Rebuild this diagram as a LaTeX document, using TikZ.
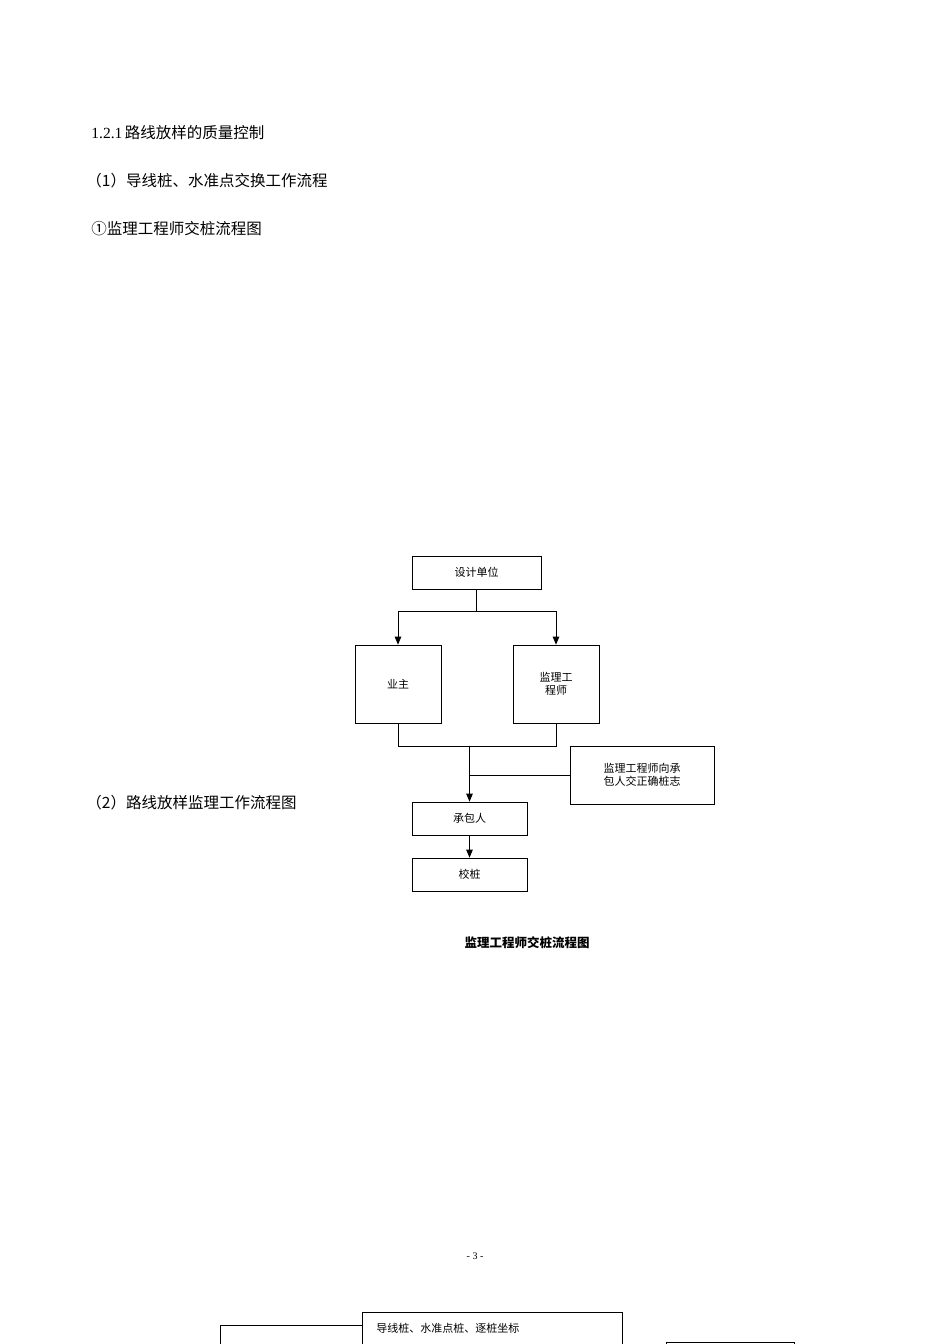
\documentclass[tikz,border=0pt]{standalone}
\usepackage{fontspec}
\setmainfont{Liberation Serif}
\newfontfamily\cjk{Noto Sans CJK SC}
\usetikzlibrary{arrows, positioning}

\begin{document}
\begin{tikzpicture}[
  x=1pt,y=-1pt,>=triangle 45,thick,
  every node/.style={font=\cjk\fontsize{11}{13}\selectfont, inner sep=0pt},
  box/.style={draw=black,line width=0.8pt},
  heading/.style={anchor=west,font=\cjk\fontsize{15.5}{18}\selectfont},
  link/.style={draw=black,line width=0.8pt}]

  \useasboundingbox (0,0) rectangle (950,1344);

  % headings
  \node[heading] (h1) at (91,133) {\rmfamily 1.2.1\,\cjk 路线放样的质量控制};
  \node[heading] (h2) at (86,181) {（1）导线桩、水准点交换工作流程};
  \node[heading] (h3) at (91,229) {①监理工程师交桩流程图};
  \node[heading] (h4) at (86,803) {（2）路线放样监理工作流程图};

  % first chart
  \node[box, minimum width=129, minimum height=33] (des) at (476.5,572.5) {设计单位};
  \node[box, minimum width=86,  minimum height=78] (own) at (398,684)     {业主};
  \node[box, minimum width=86,  minimum height=78, align=center] (eng) at (556,684) {监理工\\程师};
  \node[box, minimum width=144, minimum height=58, align=center] (msg) at (642,775) {监理工程师向承\\包人交正确桩志};
  \node[box, minimum width=115, minimum height=33] (con) at (469.5,818.5) {承包人};
  \node[box, minimum width=115, minimum height=33] (chk) at (469.5,874.5) {校桩};

  \coordinate (split) at (476.5,611);
  \coordinate (join)  at (469.5,746);

  \draw[link] (des.south) -- (split);
  \draw[link,->] (split) -| (own.north);
  \draw[link,->] (split) -| (eng.north);
  \draw[link] (own.south) |- (join);
  \draw[link] (eng.south) |- (join);
  \draw[link,->] (join) -- (con.north);
  \draw[link] (msg.west) -- (msg.west-|join);
  \draw[link,->] (con.south) -- (chk.north);

  \node[font=\cjk\bfseries\fontsize{12.5}{15}\selectfont] (cap) at (527,943) {监理工程师交桩流程图};
  \node[font=\rmfamily\fontsize{10}{12}\selectfont] (pg) at (475,1256) {- 3 -};

  % second chart, cut at the page edge
  \node[box, minimum width=260, minimum height=40, anchor=north west] (pile) at (362,1312) {};
  \node[anchor=west] (pileT) at (376,1328) {导线桩、水准点桩、逐桩坐标};
  \node[box, minimum width=128, minimum height=20, anchor=north west] (nxt) at (666,1342) {};
  \coordinate (lft) at (220,1350);
  \draw[link] (pile.west|-0,1325) -- (220,1325) -- (lft);
\end{tikzpicture}
\end{document}
